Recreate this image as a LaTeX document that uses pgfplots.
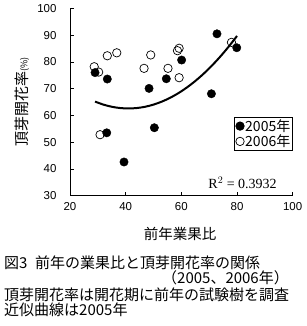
\documentclass[border=0pt]{standalone}
\usepackage{fontspec}
\setmainfont{Liberation Sans}
\newfontfamily\jp{Noto Sans CJK JP}
\newfontfamily\serif{Liberation Serif}
\usepackage{pgfplots}
\pgfplotsset{compat=1.18}
\begin{document}
\begin{tikzpicture}
\useasboundingbox (0pt,0pt) rectangle (307pt,326pt);
\begin{axis}[at={(70pt,130.3pt)}, anchor=south west, scale only axis,
  width=222.7pt, height=187.3pt,
  xmin=20, xmax=100, ymin=30, ymax=100,
  xtick={20,40,...,100}, ytick={30,40,...,100},
  axis x line=bottom, axis y line=left,
  axis line style={-, line width=0.8pt},
  tick align=inside, major tick length=3.5pt,
  tick style={black, line width=0.8pt},
  ticklabel style={font=\fontsize{11.5}{13}\selectfont},
  yticklabel style={xshift=-10pt},
  xticklabel style={yshift=-3pt},
  /pgf/number format/assume math mode=true,
  clip=false,
  legend image code/.code={\draw[mark repeat=2,mark phase=2,#1] plot coordinates {(0pt,0pt) (4.5pt,0pt) (9pt,0pt)};},
  legend style={at={(1,0.42)}, anchor=north east, draw=black, line width=0.8pt,
    font=\jp\fontsize{14}{15}\selectfont, inner sep=1pt, row sep=0pt,
    nodes={inner sep=1pt}},
  legend cell align=left]
\addplot[only marks, mark=*, mark size=4.2pt, mark options={fill=black, draw=black}]
  coordinates {(29.0,76.0) (33.4,73.6) (33.2,53.5) (39.4,42.6) (48.4,70.1) (50.3,55.4)
  (54.6,73.7) (60.1,80.7) (70.8,68.1) (72.8,90.5) (79.9,85.3)};
\addlegendentry{2005年}
\addplot[only marks, mark=o, mark size=4.2pt, mark options={draw=black, line width=0.7pt}]
  coordinates {(28.7,78.2) (30.3,76.2) (30.8,52.8) (33.4,82.3) (36.8,83.4) (46.6,77.6)
  (49.0,82.6) (55.2,77.6) (58.6,84.2) (59.2,85.1) (59.2,74.1) (78.0,87.3)};
\addlegendentry{2006年}
\addplot[black, line width=2pt, smooth, forget plot]
  coordinates {(29,65.17) (32,64.04) (35,63.24) (38,62.76) (41,62.6) (44,62.76) (47,63.24)
  (50,64.04) (53,65.17) (56,66.61) (59,68.37) (62,70.46) (65,72.86) (68,75.59)
  (71,78.64) (74,82.01) (77,85.70) (80,89.70)};
\node[font=\serif\fontsize{14}{15}\selectfont] at (axis cs:82,34.9) {R$^{2}$ = 0.3932};
\end{axis}
\node[rotate=90, font=\jp\fontsize{15}{16}\selectfont] at (22pt,224pt) {頂芽開花率{\fontsize{9}{10}\selectfont(\%)}};
\node[anchor=base, font=\jp\fontsize{14.5}{15}\selectfont] at (180pt,86pt) {前年業果比};
\node[anchor=base west, font=\jp\fontsize{15}{16}\selectfont, inner sep=0pt] at (4pt,57pt) {図3\hspace{0.5em}前年の業果比と頂芽開花率の関係};
\node[anchor=base west, font=\jp\fontsize{15}{16}\selectfont, inner sep=0pt] at (162pt,42pt) {（2005、2006年）};
\node[anchor=base west, font=\jp\fontsize{15}{16}\selectfont, inner sep=0pt] at (4pt,25pt) {頂芽開花率は開花期に前年の試験樹を調査};
\node[anchor=base west, font=\jp\fontsize{15}{16}\selectfont, inner sep=0pt] at (4pt,10pt) {近似曲線は2005年};
\end{tikzpicture}
\end{document}
